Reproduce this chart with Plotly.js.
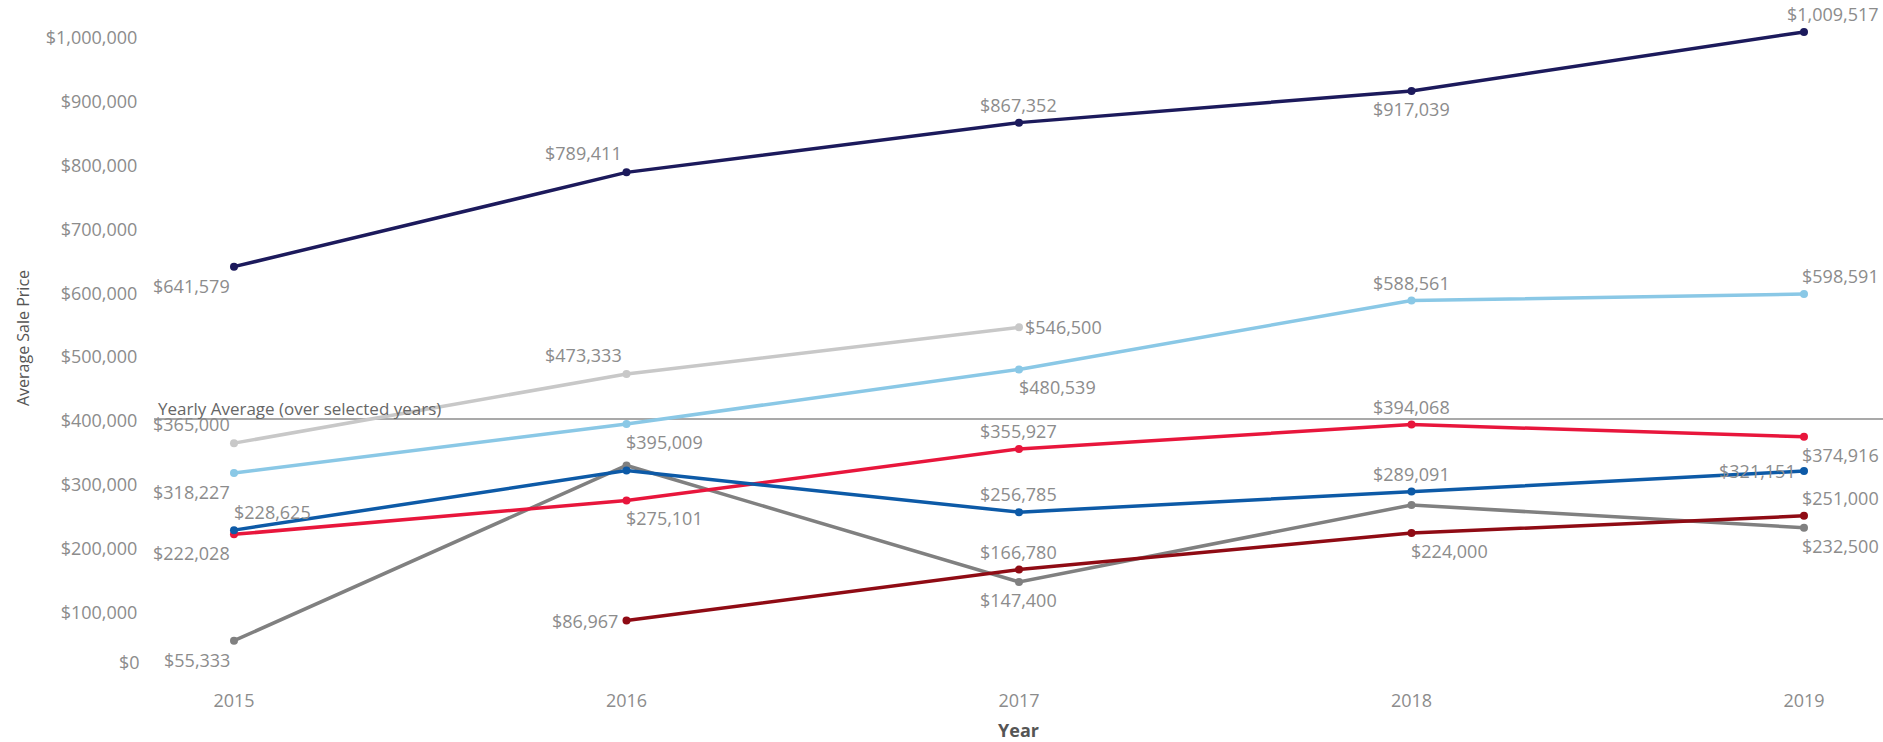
<!DOCTYPE html>
<html>
<head>
<meta charset="utf-8">
<script src="https://cdn.plot.ly/plotly-3.0.1.min.js"></script>
<style>
  html, body { margin: 0; padding: 0; background: #ffffff; }
  #chart { width: 1883px; height: 742px; }
</style>
</head>
<body>
<div id="chart"></div>
<script>
// ---------------- DATA ----------------
const years = [2015, 2016, 2017, 2018, 2019];
const navySeries      = [641579, 789411, 867352, 917039, 1009517];
const lightGraySeries = [365000, 473333, 546500, null, null];
const lightBlueSeries = [318227, 395009, 480539, 588561, 598591];
const redSeries       = [222028, 275101, 355927, 394068, 374916];
const blueSeries      = [228625, 322000, 256785, 289091, 321151];
const graySeries      = [55333, 330000, 147400, 268000, 232500];
const darkRedSeries   = [null, 86967, 166780, 224000, 251000];
const yearlyAverage = 403000;
const yTickValues = [0, 100000, 200000, 300000, 400000, 500000, 600000, 700000, 800000, 900000, 1000000];
const averageLabel = "Yearly Average (over selected years)";
const xTitle = "Year";
const yTitle = "Average Sale Price";

// ---------------- STYLE ----------------
const fmt = v => "$" + Math.round(v).toLocaleString("en-US");
const labelFont = { family: "Open Sans, sans-serif", size: 18, color: "#8c8c8c" };

// label placement keys -> pixel offsets from the point
const placements = {
  "T":  { xanchor: "center", xshift: 0,  yshift: 18 },
  "B":  { xanchor: "center", xshift: 0,  yshift: -18 },
  "TL": { xanchor: "right",  xshift: -3, yshift: 19 },
  "BL": { xanchor: "right",  xshift: -3, yshift: -19 },
  "TR": { xanchor: "left",   xshift: -1, yshift: 18 },
  "BR": { xanchor: "left",   xshift: -1, yshift: -18 },
  "ML": { xanchor: "right",  xshift: -7, yshift: 0 },
  "MR": { xanchor: "left",   xshift: 5,  yshift: 0 },
  "ET": { edge: true, yshift: 18 },   // right edge of the view, above
  "EB": { edge: true, yshift: -18 }   // right edge of the view, below
};

const seriesStyles = [
  { y: lightGraySeries, color: "#c8c8c8", pos: ["TL", "TL", "MR", null, null] },
  { y: graySeries,      color: "#808080", pos: ["BL", null, "B", null, "EB"] },
  { y: darkRedSeries,   color: "#8f0b14", pos: [null, "ML", "T", "BR", "ET"] },
  { y: redSeries,       color: "#e8163c", pos: ["BL", "BR", "T", "T", "EB"] },
  { y: blueSeries,      color: "#0d5aa7", pos: ["TR", null, "T", "T", "ML"] },
  { y: lightBlueSeries, color: "#8ac8e6", pos: ["BL", "BR", "BR", "T", "ET"] },
  { y: navySeries,      color: "#1c1a5c", pos: ["BL", "TL", "T", "B", "ET"] }
];

const traces = [];
const labelAnnotations = [];
seriesStyles.forEach(s => {
  traces.push({
    type: "scatter",
    mode: "lines+markers",
    x: years,
    y: s.y,
    cliponaxis: false,
    connectgaps: false,
    line: { color: s.color, width: 3.5 },
    marker: { color: s.color, size: 8 },
    hoverinfo: "x+y",
    showlegend: false
  });
  s.y.forEach((v, i) => {
    const key = s.pos[i];
    if (v === null || !key) return;
    const p = placements[key];
    const a = {
      yref: "y", y: v, yanchor: "middle", yshift: p.yshift,
      text: fmt(v), showarrow: false, font: labelFont, borderpad: 0
    };
    if (p.edge) {
      Object.assign(a, { xref: "paper", x: 1, xanchor: "right", xshift: -3 });
    } else {
      Object.assign(a, { xref: "x", x: years[i], xanchor: p.xanchor, xshift: p.xshift });
    }
    labelAnnotations.push(a);
  });
});

const layout = {
  width: 1883,
  height: 742,
  margin: { l: 154, r: 0, t: 0, b: 66, pad: 0 },
  paper_bgcolor: "#ffffff",
  plot_bgcolor: "#ffffff",
  font: { family: "Open Sans, sans-serif", color: "#8c8c8c" },
  showlegend: false,
  xaxis: {
    type: "linear",
    range: [2014.7962, 2019.2013],
    tickvals: years,
    ticktext: years.map(String),
    showgrid: false,
    zeroline: false,
    showline: false,
    ticks: "outside",
    ticklen: 8,
    tickcolor: "rgba(0,0,0,0)",
    tickfont: { family: "Open Sans, sans-serif", size: 18, color: "#8c8c8c" },
    title: { text: xTitle, standoff: 14, font: { family: "Open Sans, sans-serif", size: 18, color: "#555555", weight: 700 } }
  },
  yaxis: {
    range: [0, 1059561],
    tickvals: yTickValues.slice(1),
    ticktext: yTickValues.slice(1).map(fmt),
    showgrid: false,
    zeroline: false,
    showline: false,
    ticks: "outside",
    ticklen: 12,
    tickcolor: "rgba(0,0,0,0)",
    tickfont: { family: "Open Sans, sans-serif", size: 18, color: "#8c8c8c" },
    title: { text: yTitle, standoff: 12, font: { family: "Open Sans, sans-serif", size: 16, color: "#555555" } }
  },
  shapes: [{
    type: "line", xref: "paper", x0: 0, x1: 1, yref: "y", y0: yearlyAverage, y1: yearlyAverage,
    line: { color: "#8c8c8c", width: 1.5 }, layer: "below"
  }],
  annotations: [
    {
      xref: "paper", x: 0, xanchor: "left", xshift: 3,
      yref: "y", y: yearlyAverage, yanchor: "bottom", yshift: -2,
      text: averageLabel, showarrow: false, borderpad: 0,
      font: { family: "Open Sans, sans-serif", size: 17, color: "#666666" }
    },
    {
      xref: "paper", x: 0, xanchor: "right", xshift: -12,
      yref: "y", y: yTickValues[0], yanchor: "middle", yshift: 14,
      text: fmt(yTickValues[0]), showarrow: false,
      font: { family: "Open Sans, sans-serif", size: 18, color: "#8c8c8c" }
    }
  ].concat(labelAnnotations)
};

Plotly.newPlot("chart", traces, layout, { displayModeBar: false, staticPlot: true });
</script>
</body>
</html>
